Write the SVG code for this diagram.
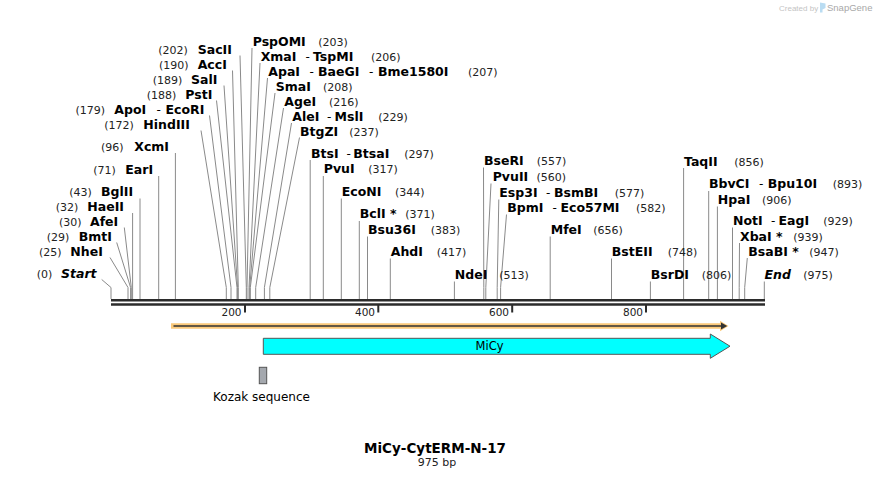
<svg xmlns="http://www.w3.org/2000/svg" width="876" height="478" viewBox="0 0 876 478">
<style>
text{font-family:"DejaVu Sans",Verdana,sans-serif;fill:#000}
.b{font-weight:bold;font-size:12.5px}
.i{font-style:italic}
.n{font-size:11px;fill:#222}
.d{font-size:12px}
.tk{font-size:10.5px;fill:#222}
.ld{fill:none;stroke:#8a8a8a;stroke-width:1}
.bb{stroke:#2b2b2b;stroke-width:2.4}
</style>
<rect width="876" height="478" fill="#fff"/>
<g id="watermark">
<text x="779" y="10.5" style="font-family:'Liberation Sans',Arial,sans-serif;font-size:8px;fill:#c4c4c4">Created by</text>
<path d="M820,2.5 L825.5,3.5 L825.5,8 L822.5,9.5 L822.5,12.5 L820,12.5 Z" fill="#b9dcf2"/>
<text x="827" y="11" style="font-family:'Liberation Sans',Arial,sans-serif;font-size:9.5px;fill:#a8a8a8">SnapGene</text>
</g>
<g id="connectors">
<polyline class="ld" points="101.7,279.5 111,287.5 111,299"/>
<polyline class="ld" points="110,257.5 128,287.5 128,299"/>
<polyline class="ld" points="116.7,242.5 130.6,287.5 130.6,299"/>
<polyline class="ld" points="124.3,227.5 131.3,287.5 131.3,299"/>
<polyline class="ld" points="132.6,213 132.6,299"/>
<polyline class="ld" points="140,198.5 140,299"/>
<polyline class="ld" points="158.7,176 158.7,299"/>
<polyline class="ld" points="175.4,153 175.4,299"/>
<polyline class="ld" points="201,130.5 226.3,287.5 226.3,299"/>
<polyline class="ld" points="209.5,115.5 231,287.5 231,299"/>
<polyline class="ld" points="216.5,100.5 237,287.5 237,299"/>
<polyline class="ld" points="224,85.5 237.6,287.5 237.6,299"/>
<polyline class="ld" points="232.5,70.5 238.3,287.5 238.3,299"/>
<polyline class="ld" points="240,55.5 246.3,287.5 246.3,299"/>
<polyline class="ld" points="252,48 247,287.5 247,299"/>
<polyline class="ld" points="260,63 249,287.5 249,299"/>
<polyline class="ld" points="267.5,78 249.7,287.5 249.7,299"/>
<polyline class="ld" points="275,93 250.3,287.5 250.3,299"/>
<polyline class="ld" points="283.5,108 255.7,287.5 255.7,299"/>
<polyline class="ld" points="291.5,123 264.4,287.5 264.4,299"/>
<polyline class="ld" points="299.5,137.5 269.8,287.5 269.8,299"/>
<polyline class="ld" points="310.2,160 310.2,299"/>
<polyline class="ld" points="323.3,176 323.3,299"/>
<polyline class="ld" points="341.3,198.5 341.3,299"/>
<polyline class="ld" points="359.3,221 359.3,299"/>
<polyline class="ld" points="367.5,236.5 367.5,299"/>
<polyline class="ld" points="390.3,258.5 390.3,299"/>
<polyline class="ld" points="454.4,281.5 454.4,299"/>
<polyline class="ld" points="483.5,167.5 483.8,287.5 483.8,299"/>
<polyline class="ld" points="491,183.5 485.8,287.5 485.8,299"/>
<polyline class="ld" points="498.8,199.5 497.2,287.5 497.2,299"/>
<polyline class="ld" points="506.5,214.5 500.6,287.5 500.6,299"/>
<polyline class="ld" points="550.2,236.5 550.2,299"/>
<polyline class="ld" points="611.5,258.5 611.5,299"/>
<polyline class="ld" points="650.4,281.5 650.4,299"/>
<polyline class="ld" points="683.6,168 683.6,299"/>
<polyline class="ld" points="708.7,191 708.7,299"/>
<polyline class="ld" points="717.4,206.5 717.4,299"/>
<polyline class="ld" points="732.5,227.5 732.5,299"/>
<polyline class="ld" points="739.5,243 739.2,287.5 739.2,299"/>
<polyline class="ld" points="747.3,258 744.7,287.5 744.7,299"/>
<polyline class="ld" points="764.3,281.5 764.3,299"/>
</g>
<g id="backbone">
<line class="bb" x1="111" y1="300.2" x2="765" y2="300.2"/>
<line class="bb" x1="111" y1="304.5" x2="765" y2="304.5"/>
<rect x="244" y="305" width="2" height="7.5" fill="#2b2b2b"/>
<rect x="377.3" y="305" width="2" height="7.5" fill="#2b2b2b"/>
<rect x="511.2" y="305" width="2" height="7.5" fill="#2b2b2b"/>
<rect x="645" y="305" width="2" height="7.5" fill="#2b2b2b"/>
<text class="tk" x="241.5" y="316" text-anchor="end">200</text>
<text class="tk" x="375" y="316" text-anchor="end">400</text>
<text class="tk" x="509" y="316" text-anchor="end">600</text>
<text class="tk" x="643" y="316" text-anchor="end">800</text>
</g>
<g id="site-start"><text y="278.3"><tspan class="n" x="36.7">(0)</tspan><tspan class="b i" x="61">Start</tspan></text></g>
<g id="site-NheI"><text y="255.7"><tspan class="n" x="39">(25)</tspan><tspan class="b" x="70.3">NheI</tspan></text></g>
<g id="site-BmtI"><text y="240.7"><tspan class="n" x="46.7">(29)</tspan><tspan class="b" x="78.7">BmtI</tspan></text></g>
<g id="site-AfeI"><text y="225.7"><tspan class="n" x="59">(30)</tspan><tspan class="b" x="90">AfeI</tspan></text></g>
<g id="site-HaeII"><text y="210.7"><tspan class="n" x="55.7">(32)</tspan><tspan class="b" x="87.3">HaeII</tspan></text></g>
<g id="site-BglII"><text y="196"><tspan class="n" x="69.3">(43)</tspan><tspan class="b" x="101">BglII</tspan></text></g>
<g id="site-EarI"><text y="174"><tspan class="n" x="93.3">(71)</tspan><tspan class="b" x="125.3">EarI</tspan></text></g>
<g id="site-XcmI"><text y="151"><tspan class="n" x="101">(96)</tspan><tspan class="b" x="134.3">XcmI</tspan></text></g>
<g id="site-HindIII"><text y="128.7"><tspan class="n" x="104.3">(172)</tspan><tspan class="b" x="143.3">HindIII</tspan></text></g>
<g id="site-ApoI-EcoRI"><text y="113.5"><tspan class="n" x="75.5">(179)</tspan><tspan class="b" x="114.3">ApoI</tspan><tspan class="d" x="156.5">-</tspan><tspan class="b" x="165.5">EcoRI</tspan></text></g>
<g id="site-PstI"><text y="98.5"><tspan class="n" x="146.7">(188)</tspan><tspan class="b" x="185.3">PstI</tspan></text></g>
<g id="site-SalI"><text y="83.5"><tspan class="n" x="152.7">(189)</tspan><tspan class="b" x="191">SalI</tspan></text></g>
<g id="site-AccI"><text y="68.5"><tspan class="n" x="159">(190)</tspan><tspan class="b" x="197.7">AccI</tspan></text></g>
<g id="site-SacII"><text y="54"><tspan class="n" x="158.3">(202)</tspan><tspan class="b" x="197.7">SacII</tspan></text></g>
<g id="site-PspOMI"><text y="46"><tspan class="b" x="252.7">PspOMI</tspan><tspan class="n" x="318.3">(203)</tspan></text></g>
<g id="site-XmaI-TspMI"><text y="61"><tspan class="b" x="260.7">XmaI</tspan><tspan class="d" x="305.5">-</tspan><tspan class="b" x="313">TspMI</tspan><tspan class="n" x="371">(206)</tspan></text></g>
<g id="site-ApaI-BaeGI-Bme1580I"><text y="76"><tspan class="b" x="268.3">ApaI</tspan><tspan class="d" x="309.5">-</tspan><tspan class="b" x="318">BaeGI</tspan><tspan class="d" x="369">-</tspan><tspan class="b" x="378">Bme1580I</tspan><tspan class="n" x="468">(207)</tspan></text></g>
<g id="site-SmaI"><text y="91"><tspan class="b" x="275.7">SmaI</tspan><tspan class="n" x="323">(208)</tspan></text></g>
<g id="site-AgeI"><text y="106"><tspan class="b" x="284.3">AgeI</tspan><tspan class="n" x="329">(216)</tspan></text></g>
<g id="site-AleI-MslI"><text y="121"><tspan class="b" x="292.3">AleI</tspan><tspan class="d" x="327">-</tspan><tspan class="b" x="334.5">MslI</tspan><tspan class="n" x="378.3">(229)</tspan></text></g>
<g id="site-BtgZI"><text y="135.5"><tspan class="b" x="300">BtgZI</tspan><tspan class="n" x="349.3">(237)</tspan></text></g>
<g id="site-BtsI-BtsaI"><text y="157.5"><tspan class="b" x="311">BtsI</tspan><tspan class="d" x="346.5">-</tspan><tspan class="b" x="353.3">BtsaI</tspan><tspan class="n" x="404.3">(297)</tspan></text></g>
<g id="site-PvuI"><text y="173.3"><tspan class="b" x="323.8">PvuI</tspan><tspan class="n" x="368.3">(317)</tspan></text></g>
<g id="site-EcoNI"><text y="195.5"><tspan class="b" x="341.8">EcoNI</tspan><tspan class="n" x="395">(344)</tspan></text></g>
<g id="site-BclI"><text y="218.3"><tspan class="b" x="359.8">BclI *</tspan><tspan class="n" x="405.3">(371)</tspan></text></g>
<g id="site-Bsu36I"><text y="233.7"><tspan class="b" x="368">Bsu36I</tspan><tspan class="n" x="430.7">(383)</tspan></text></g>
<g id="site-AhdI"><text y="256"><tspan class="b" x="390.8">AhdI</tspan><tspan class="n" x="436.7">(417)</tspan></text></g>
<g id="site-NdeI"><text y="279"><tspan class="b" x="454.8">NdeI</tspan><tspan class="n" x="499.3">(513)</tspan></text></g>
<g id="site-BseRI"><text y="165"><tspan class="b" x="484">BseRI</tspan><tspan class="n" x="536.7">(557)</tspan></text></g>
<g id="site-PvuII"><text y="180.5"><tspan class="b" x="492.7">PvuII</tspan><tspan class="n" x="536.5">(560)</tspan></text></g>
<g id="site-Esp3I-BsmBI"><text y="197"><tspan class="b" x="499.3">Esp3I</tspan><tspan class="d" x="546">-</tspan><tspan class="b" x="554">BsmBI</tspan><tspan class="n" x="614.7">(577)</tspan></text></g>
<g id="site-BpmI-Eco57MI"><text y="212"><tspan class="b" x="507.3">BpmI</tspan><tspan class="d" x="552.5">-</tspan><tspan class="b" x="560.5">Eco57MI</tspan><tspan class="n" x="636">(582)</tspan></text></g>
<g id="site-MfeI"><text y="233.5"><tspan class="b" x="550.7">MfeI</tspan><tspan class="n" x="593.3">(656)</tspan></text></g>
<g id="site-BstEII"><text y="256"><tspan class="b" x="611.8">BstEII</tspan><tspan class="n" x="667.7">(748)</tspan></text></g>
<g id="site-BsrDI"><text y="279"><tspan class="b" x="650.8">BsrDI</tspan><tspan class="n" x="701.7">(806)</tspan></text></g>
<g id="site-TaqII"><text y="165.5"><tspan class="b" x="684">TaqII</tspan><tspan class="n" x="734.3">(856)</tspan></text></g>
<g id="site-BbvCI-Bpu10I"><text y="188.3"><tspan class="b" x="709">BbvCI</tspan><tspan class="d" x="759">-</tspan><tspan class="b" x="767.7">Bpu10I</tspan><tspan class="n" x="832.7">(893)</tspan></text></g>
<g id="site-HpaI"><text y="203.5"><tspan class="b" x="717.8">HpaI</tspan><tspan class="n" x="762">(906)</tspan></text></g>
<g id="site-NotI-EagI"><text y="225"><tspan class="b" x="733">NotI</tspan><tspan class="d" x="771">-</tspan><tspan class="b" x="778.5">EagI</tspan><tspan class="n" x="823.3">(929)</tspan></text></g>
<g id="site-XbaI"><text y="240.5"><tspan class="b" x="740">XbaI *</tspan><tspan class="n" x="793.3">(939)</tspan></text></g>
<g id="site-BsaBI"><text y="255.5"><tspan class="b" x="748.3">BsaBI *</tspan><tspan class="n" x="809.3">(947)</tspan></text></g>
<g id="site-end"><text y="279"><tspan class="b i" x="764.5">End</tspan><tspan class="n" x="803.3">(975)</tspan></text></g>
<g id="feature-orange">
<path d="M171,323.3 H720 V320.8 L728.5,326 L720,331.2 V328.7 H171 Z" fill="#fbc97a"/>
<path d="M173.5,325.2 H721 V322.6 L727.2,326 L721,329.4 V326.8 H173.5 Z" fill="#333"/>
</g>
<g id="feature-MiCy">
<path d="M263.3,338.3 H710.3 V334 L730,346.2 L710.3,358.3 V354.3 H263.3 Z" fill="#00ffff" stroke="#555" stroke-width="1"/>
<text x="489.5" y="350" text-anchor="middle" style="font-size:11.5px">MiCy</text>
</g>
<g id="feature-Kozak">
<rect x="259.3" y="367.3" width="7.4" height="16.4" fill="#a4a8ae" stroke="#555" stroke-width="1"/>
<text x="261.5" y="400.5" text-anchor="middle" style="font-size:12px">Kozak sequence</text>
</g>
<g id="title">
<text x="435" y="452.5" text-anchor="middle" style="font-size:13.5px;font-weight:bold">MiCy-CytERM-N-17</text>
<text x="437" y="465.5" text-anchor="middle" style="font-size:11px;fill:#222">975 bp</text>
</g>
</svg>
